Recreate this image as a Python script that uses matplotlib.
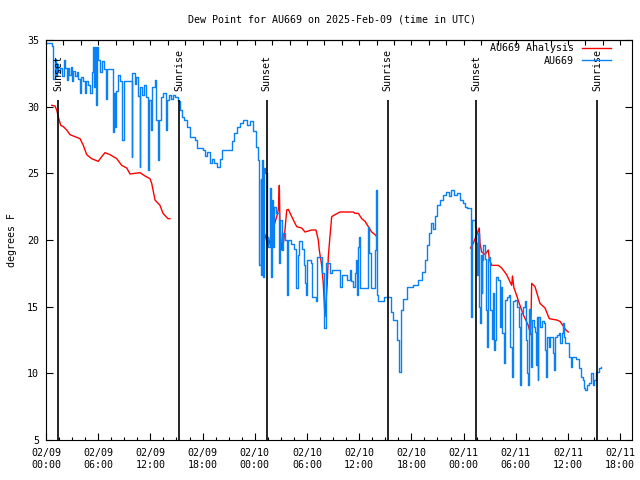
import numpy as np
import matplotlib
matplotlib.use("Agg")
import matplotlib.pyplot as plt

plt.rcParams['font.family'] = ['DejaVu Sans Mono']
plt.rcParams['font.size'] = 7.2

# hours since 2025-02-09 00:00 UTC
blue_t = [0.11, 0.66, 0.77, 1.03, 1.15, 1.26, 1.38, 1.61, 1.84, 2.07, 2.24, 2.38, 2.53, 2.70, 2.82,
          2.99, 3.10, 3.33, 3.56, 3.71, 3.91, 4.02, 4.25, 4.48, 4.60, 4.83, 5.06, 5.25, 5.40, 5.52,
          5.63, 5.80, 5.86, 6.01, 6.21, 6.40, 6.67, 6.90, 6.97, 7.70, 7.82, 7.93, 8.05, 8.31, 8.51,
          8.79, 8.91, 9.83, 9.94, 10.23, 10.40, 10.57, 10.75, 10.86, 11.03, 11.26, 11.49, 11.72, 11.84,
          12.07, 12.24, 12.53, 12.70, 12.87, 12.99, 13.22, 13.45, 13.74, 13.91, 14.14, 14.37, 14.60,
          14.83, 15.21, 15.40, 15.60, 15.86, 16.17, 16.55, 17.13, 17.32, 18.08, 18.28, 18.51, 18.85,
          19.08, 19.31, 19.62, 20.00, 20.20, 21.34, 21.61, 21.92, 22.30, 22.64, 23.10, 23.45, 23.79,
          24.14, 24.37, 24.54, 24.66, 24.77, 24.86, 24.97, 25.06, 25.17, 25.37, 25.56, 25.75, 25.83,
          25.92, 26.03, 26.15, 26.26, 26.44, 26.84, 26.95, 27.18, 27.30, 27.47, 27.67, 27.76, 27.87,
          28.16, 28.51, 28.79, 28.91, 29.08, 29.43, 29.66, 29.77, 29.85, 29.97, 30.46, 30.63, 30.98,
          31.11, 31.69, 31.90, 32.01, 32.18, 32.70, 32.84, 33.79, 33.99, 34.60, 34.89, 35.11, 35.34,
          35.52, 35.69, 35.80, 35.92, 36.00, 36.09, 37.07, 37.18, 37.36, 37.82, 37.91, 37.99, 38.10,
          38.20, 38.91, 39.60, 39.94, 40.40, 40.63, 40.80, 41.03, 41.49, 42.18, 42.76, 43.22, 43.56,
          43.79, 44.02, 44.25, 44.48, 44.71, 44.94, 45.29, 45.63, 45.98, 46.32, 46.55, 46.90, 47.24,
          47.59, 47.93, 48.16, 48.39, 48.80, 48.85, 48.97, 49.31, 49.48, 49.57, 49.66, 49.81, 49.89,
          49.97, 50.08, 50.17, 50.26, 50.49, 50.61, 50.69, 50.77, 50.92, 51.03, 51.09, 51.26, 51.38,
          51.46, 51.61, 51.76, 51.95, 52.13, 52.22, 52.30, 52.47, 52.61, 52.76, 52.99, 53.18, 53.37,
          53.56, 53.68, 53.94, 54.14, 54.33, 54.45, 54.52, 54.60, 54.83, 55.09, 55.23, 55.29, 55.37,
          55.48, 55.63, 55.75, 55.86, 56.09, 56.24, 56.32, 56.40, 56.52, 56.61, 56.78, 57.01, 57.28,
          57.39, 57.47, 57.59, 57.78, 57.93, 58.31, 58.43, 58.54, 58.79, 59.00, 59.14, 59.31, 59.46,
          59.57, 59.71, 60.15, 60.34, 60.46, 60.92, 61.23, 61.49, 61.72, 61.87, 61.99, 62.15, 62.41,
          62.64, 62.82, 63.02, 63.22, 63.60, 63.79]
blue_v = [34.75, 34.55, 32.05, 33.6, 32.3, 33.2, 32.6, 32.9, 32.3, 33.5, 32.9, 32.0, 32.9, 32.4, 33.0,
          31.9, 32.7, 32.3, 32.6, 32.1, 31.0, 32.2, 31.9, 31.0, 31.9, 31.6, 31.0, 32.6, 34.5, 31.5,
          34.5, 30.1, 34.5, 33.5, 32.6, 33.4, 32.8, 30.6, 32.8, 28.1, 31.0, 28.5, 31.2, 32.4, 31.9,
          27.5, 31.9, 26.25, 32.5, 31.7, 32.2, 30.8, 25.5, 31.5, 30.9, 31.6, 30.7, 25.25, 30.5,
          28.25, 31.5, 32.0, 29.0, 26.0, 29.0, 30.7, 31.0, 28.25, 30.5, 30.9, 30.6, 30.9,
          30.75, 30.4, 29.75, 29.25, 29.0, 28.5, 27.75, 27.5, 26.9, 26.75, 26.3, 26.6, 25.75,
          26.1, 25.8, 25.5, 26.1, 26.75, 27.4, 28.0, 28.5, 28.75, 29.0, 28.6, 28.9, 28.2,
          27.0, 26.0, 18.1, 24.6, 17.4, 26.0, 17.25, 25.4, 25.0, 20.25, 19.5, 23.9, 18.75,
          17.25, 23.0, 19.5, 22.5, 22.0, 18.25, 21.5, 19.25, 20.5, 20.0, 17.25, 15.9, 20.0,
          19.7, 19.3, 16.4, 18.9, 19.9, 19.3, 18.1, 16.75, 15.9, 18.5, 18.3, 15.75, 15.4,
          18.75, 17.5, 14.25, 13.4, 18.25, 17.5, 17.75, 16.5, 17.4, 17.0, 17.75, 16.9, 16.5,
          17.5, 18.5, 15.9, 19.5, 20.25, 16.4, 21.0, 19.0, 16.4, 19.25, 23.25, 23.75, 15.9,
          15.4, 15.75, 14.6, 14.0, 12.5, 10.1, 14.75, 15.6, 16.5, 16.6, 17.0, 17.6, 18.5,
          19.6, 20.5, 21.3, 20.8, 21.8, 22.6, 23.0, 23.4, 23.6, 23.3, 23.75, 23.4, 23.5,
          23.0, 22.8, 22.5, 22.4, 18.4, 14.25, 21.5, 21.0, 19.75, 17.4, 20.5, 15.0, 13.75,
          18.9, 16.0, 18.5, 19.6, 18.6, 14.75, 12.0, 18.6, 18.7, 16.5, 14.75, 12.6, 16.0,
          11.75, 12.5, 17.25, 17.0, 16.5, 13.5, 16.5, 13.0, 10.75, 15.5, 15.75, 15.9, 12.0,
          9.75, 15.4, 15.5, 15.0, 13.5, 10.6, 9.1, 14.5, 15.0, 15.4, 12.5, 10.0, 9.1,
          14.8, 13.0, 10.5, 14.0, 13.5, 13.1, 10.6, 14.25, 9.5, 14.25, 13.5, 13.9, 13.75,
          11.75, 9.75, 12.75, 12.0, 12.75, 11.5, 10.25, 12.75, 12.9, 13.0, 12.3, 13.0, 13.75,
          12.75, 12.25, 11.25, 10.5, 11.25, 11.1, 10.4, 9.75, 9.5, 8.9, 8.75, 9.1, 9.3,
          10.0, 9.1, 9.5, 10.1, 10.4, 10.5]

red_t = [0.66, 1.03, 1.23, 1.41, 1.69, 1.99, 2.38, 2.76, 3.33, 3.91, 4.29, 4.68, 5.25, 6.01, 6.40,
         6.78, 7.36, 8.13, 8.70, 9.28, 9.66, 10.23, 10.80, 11.38, 11.95, 12.15, 12.53, 13.10, 13.45,
         14.02, 14.25, np.nan,
         24.79, 25.17, 25.55, 25.94, 26.52, 26.72, 26.82, 26.90, 27.09, 27.24, 27.47, 27.67, 27.85,
         28.43, 28.82, 29.39, 29.77, 30.54, 31.03, 31.30, 31.41, 31.69, 31.87, 32.07, 32.33, 32.45,
         32.64, 32.84, 33.22, 33.79, 35.32, 35.52, 35.90, 36.29, 36.67, 37.05, 37.44, 37.82, 38.01,
         np.nan,
         48.80, 49.11, 49.51, 49.80, 49.89, 50.08, 50.46, 50.84, 50.95, 51.23, 51.99, 52.38, 52.95,
         53.53, 53.62, 53.79, 54.02, 54.40, 54.86, 55.43, 55.71, 55.83, 56.21, 56.78, 57.36, 57.85,
         58.70, 59.08, 59.77, 60.03]
red_v = [30.1, 30.05, 29.75, 29.25, 28.6, 28.5, 28.25, 27.9, 27.75, 27.6, 27.1, 26.4, 26.1, 25.9, 26.25,
         26.55, 26.4, 26.1, 25.6, 25.4, 24.95, 25.0, 25.05, 24.8, 24.6, 24.25, 23.0, 22.6, 22.0,
         21.6, 21.6, np.nan,
         20.9, 20.4, 19.5, 20.5, 21.75, 22.3, 24.1, 21.0, 19.25, 19.5, 20.75, 22.25, 22.3,
         21.5, 21.0, 20.9, 20.6, 20.75, 20.75, 20.0, 19.25, 18.1, 16.75, 14.25, 16.75, 18.75,
         20.25, 21.75, 21.9, 22.1, 22.1, 22.0, 22.0, 21.6, 21.4, 21.0, 20.6, 20.4, 20.25,
         np.nan,
         19.4, 19.75, 20.4, 20.9, 19.75, 19.1, 18.9, 19.25, 18.6, 18.1, 18.1, 17.9, 17.4,
         16.6, 17.3, 16.4, 16.0, 15.25, 14.4, 13.6, 12.9, 16.75, 16.5, 15.25, 14.9, 14.1,
         14.0, 13.9, 13.25, 13.1]

sun_t = [1.42, 15.32, 25.38, 39.28, 49.43, 63.35]
sun_labels = ["Sunset", "Sunrise", "Sunset", "Sunrise", "Sunset", "Sunrise"]

xtick_hours = [0, 6, 12, 18, 24, 30, 36, 42, 48, 54, 60, 66]
xtick_labels = ["02/09\n00:00", "02/09\n06:00", "02/09\n12:00", "02/09\n18:00",
                "02/10\n00:00", "02/10\n06:00", "02/10\n12:00", "02/10\n18:00",
                "02/11\n00:00", "02/11\n06:00", "02/11\n12:00", "02/11\n18:00"]
yticks = [5, 10, 15, 20, 25, 30, 35]

fig = plt.figure(figsize=(6.4, 4.8), dpi=100)
ax = fig.add_axes([46/640, 40/480, 586/640, 400/480])

RED = "#ff0000"
BLUE = "#0a80f5"

ax.plot(red_t, red_v, color=RED, lw=1.0, label="AU669 Analysis")
ax.plot(blue_t, blue_v, color=BLUE, lw=1.0, drawstyle="steps-post", label="AU669")

ax.vlines(sun_t, 5, 30.5, color="black", lw=1.2)
for t, lab in zip(sun_t, sun_labels):
    ax.text(t, 31.15, lab, rotation=90, ha="center", va="bottom", fontsize=7.2)

ax.set_xlim(0, 67.36)
ax.set_ylim(5, 35)
ax.set_xticks(xtick_hours)
ax.set_xticklabels(xtick_labels)
ax.set_xticks(np.arange(0, 67.4, 1.5), minor=True)
ax.set_yticks(yticks)
ax.set_yticklabels([str(v) for v in yticks])

ax.tick_params(axis="x", which="major", direction="in", length=5, width=0.8, top=False, pad=6)
ax.tick_params(axis="x", which="minor", direction="in", length=2.5, width=0.8, top=False)
ax.tick_params(axis="y", which="major", direction="in", length=5, width=0.8, right=True, pad=5)

sec = ax.secondary_xaxis("top")
sec.set_xticks(np.arange(0, 67.4, 2))
sec.set_xticklabels([])
sec.tick_params(direction="in", length=3.5, width=0.8)
sec.spines["top"].set_linewidth(0.8)

for s in ax.spines.values():
    s.set_linewidth(0.8)

ax.set_ylabel("degrees F", labelpad=7)
fig.text(332/640, 1 - 19/480, "Dew Point for AU669 on 2025-Feb-09 (time in UTC)",
         ha="center", va="center", fontsize=7.2)

leg = ax.legend(loc="upper right", bbox_to_anchor=(611/640, 1 - 43/480),
                bbox_transform=fig.transFigure, frameon=False, markerfirst=False,
                handlelength=2.9, handletextpad=0.8, labelspacing=0.25, borderpad=0,
                borderaxespad=0, fontsize=7.2)

fig.savefig("out.png", dpi=100)
